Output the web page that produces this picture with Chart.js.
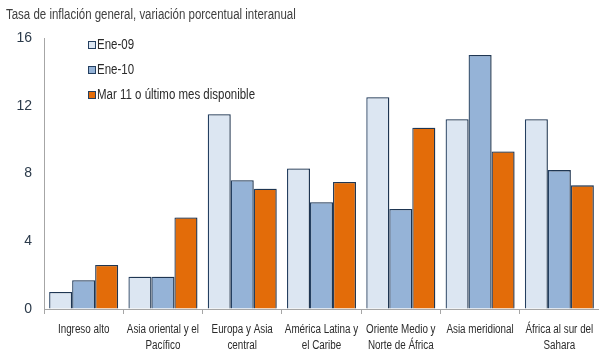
<!DOCTYPE html>
<html>
<head>
<meta charset="utf-8">
<style>
  html, body { margin: 0; padding: 0; background: #fff; }
  #wrap { width: 599px; height: 352px; position: relative; }
</style>
</head>
<body>
<div id="wrap">
    <canvas id="chart_id"></canvas>
</div>
<script src="https://cdn.jsdelivr.net/npm/chart.js"></script>
<script>
    // regiones (etiquetas de categoría, en dos líneas cuando hace falta)
    const regiones = [
        'Ingreso alto',
        ['Asia oriental y el', 'Pacífico'],
        ['Europa y Asia', 'central'],
        ['América Latina y', 'el Caribe'],
        ['Oriente Medio y', 'Norte de África'],
        'Asia meridional',
        ['África al sur del', 'Sahara']
    ];
    const ene09 = [1.0, 1.9, 11.5, 8.3, 12.5, 11.2, 11.2];
    const ene10 = [1.7, 1.9, 7.6, 6.3, 5.9, 15.0, 8.2];
    const mar11 = [2.6, 5.4, 7.1, 7.5, 10.7, 9.3, 7.3];
    const ticksY = [0, 4, 8, 12, 16];

    const titulo = 'Tasa de inflación general, variación porcentual interanual';
    const FUENTE = '"Liberation Sans", Arial, sans-serif';
    const BORDE = '#243f60';
    const ESTRECHO = 0.82; // no hay Arial Narrow: se comprime el texto a mano

    function textoEstrecho(ctx, txt, x, y, align) {
        ctx.save();
        ctx.translate(x, y);
        ctx.scale(ESTRECHO, 1);
        ctx.textAlign = align;
        ctx.fillText(txt, 0, 0);
        ctx.restore();
    }

    // sombra ligera detrás de las barras
    const sombra = {
        id: 'sombra',
        beforeDatasetsDraw(chart) {
            const ctx = chart.ctx;
            ctx.save();
            ctx.shadowColor = 'rgba(0,0,0,0.22)';
            ctx.shadowBlur = 2;
            ctx.shadowOffsetX = 1.5;
            ctx.shadowOffsetY = -1;
        },
        afterDatasetsDraw(chart) {
            chart.ctx.restore();
        }
    };

    // titulo, leyenda y etiquetas del eje x
    const extras = {
        id: 'extras',
        afterDraw(chart) {
            const ctx = chart.ctx;
            ctx.save();
            ctx.textBaseline = 'middle';

            ctx.font = '14px ' + FUENTE;
            ctx.fillStyle = '#404040';
            textoEstrecho(ctx, titulo, 6, 15, 'left');

            chart.data.datasets.forEach((ds, i) => {
                const y = 45 + i * 25;
                ctx.fillStyle = ds.backgroundColor;
                ctx.fillRect(88, y - 4, 8, 8);
                ctx.strokeStyle = BORDE;
                ctx.lineWidth = 1;
                ctx.strokeRect(88.5, y - 3.5, 7, 7);
                ctx.fillStyle = '#2b2b2b';
                textoEstrecho(ctx, ds.label, 97, y, 'left');
            });

            const xs = chart.scales.x;
            ctx.font = '12px ' + FUENTE;
            ctx.fillStyle = '#2b2b2b';
            chart.data.labels.forEach((lab, i) => {
                const cx = xs.getPixelForTick(i);
                const lineas = Array.isArray(lab) ? lab : [lab];
                lineas.forEach((l, j) => {
                    textoEstrecho(ctx, l, cx, 330 + j * 16, 'center');
                });
            });
            ctx.restore();
        }
    };

    const serie = (label, data, color) => ({
        label: label,
        data: data,
        backgroundColor: color,
        borderColor: BORDE,
        borderWidth: 1.3,
        categoryPercentage: 0.87,
        barPercentage: 1.0
    });

    new Chart(document.getElementById('chart_id'), {
        type: 'bar',
        data: {
            labels: regiones,
            datasets: [
                serie('Ene-09', ene09, '#dce6f2'),
                serie('Ene-10', ene10, '#95b3d7'),
                serie('Mar 11 o último mes disponible', mar11, '#e36c09')
            ]
        },
        options: {
            responsive: true,
            maintainAspectRatio: false,
            animation: false,
            layout: { padding: { top: 38, right: 0, left: 0, bottom: 0 } },
            plugins: {
                legend: { display: false },
                tooltip: { enabled: false }
            },
            scales: {
                x: {
                    afterFit(scale) { scale.height = 43; },
                    grid: {
                        offset: true,
                        drawOnChartArea: false,
                        tickLength: 5,
                        color: '#a6a6a6'
                    },
                    border: { color: '#a6a6a6', width: 1 },
                    ticks: { display: false }
                },
                y: {
                    min: 0,
                    max: 16,
                    afterFit(scale) { scale.width = 44; },
                    afterBuildTicks(scale) {
                        scale.ticks = ticksY.map(v => ({ value: v }));
                    },
                    grid: { drawOnChartArea: false, drawTicks: false },
                    border: { color: '#a6a6a6', width: 1 },
                    ticks: {
                        font: { family: FUENTE, size: 14 },
                        color: '#2b3a4a',
                        padding: 12
                    }
                }
            }
        },
        plugins: [sombra, extras]
    });
</script>
</body>
</html>
